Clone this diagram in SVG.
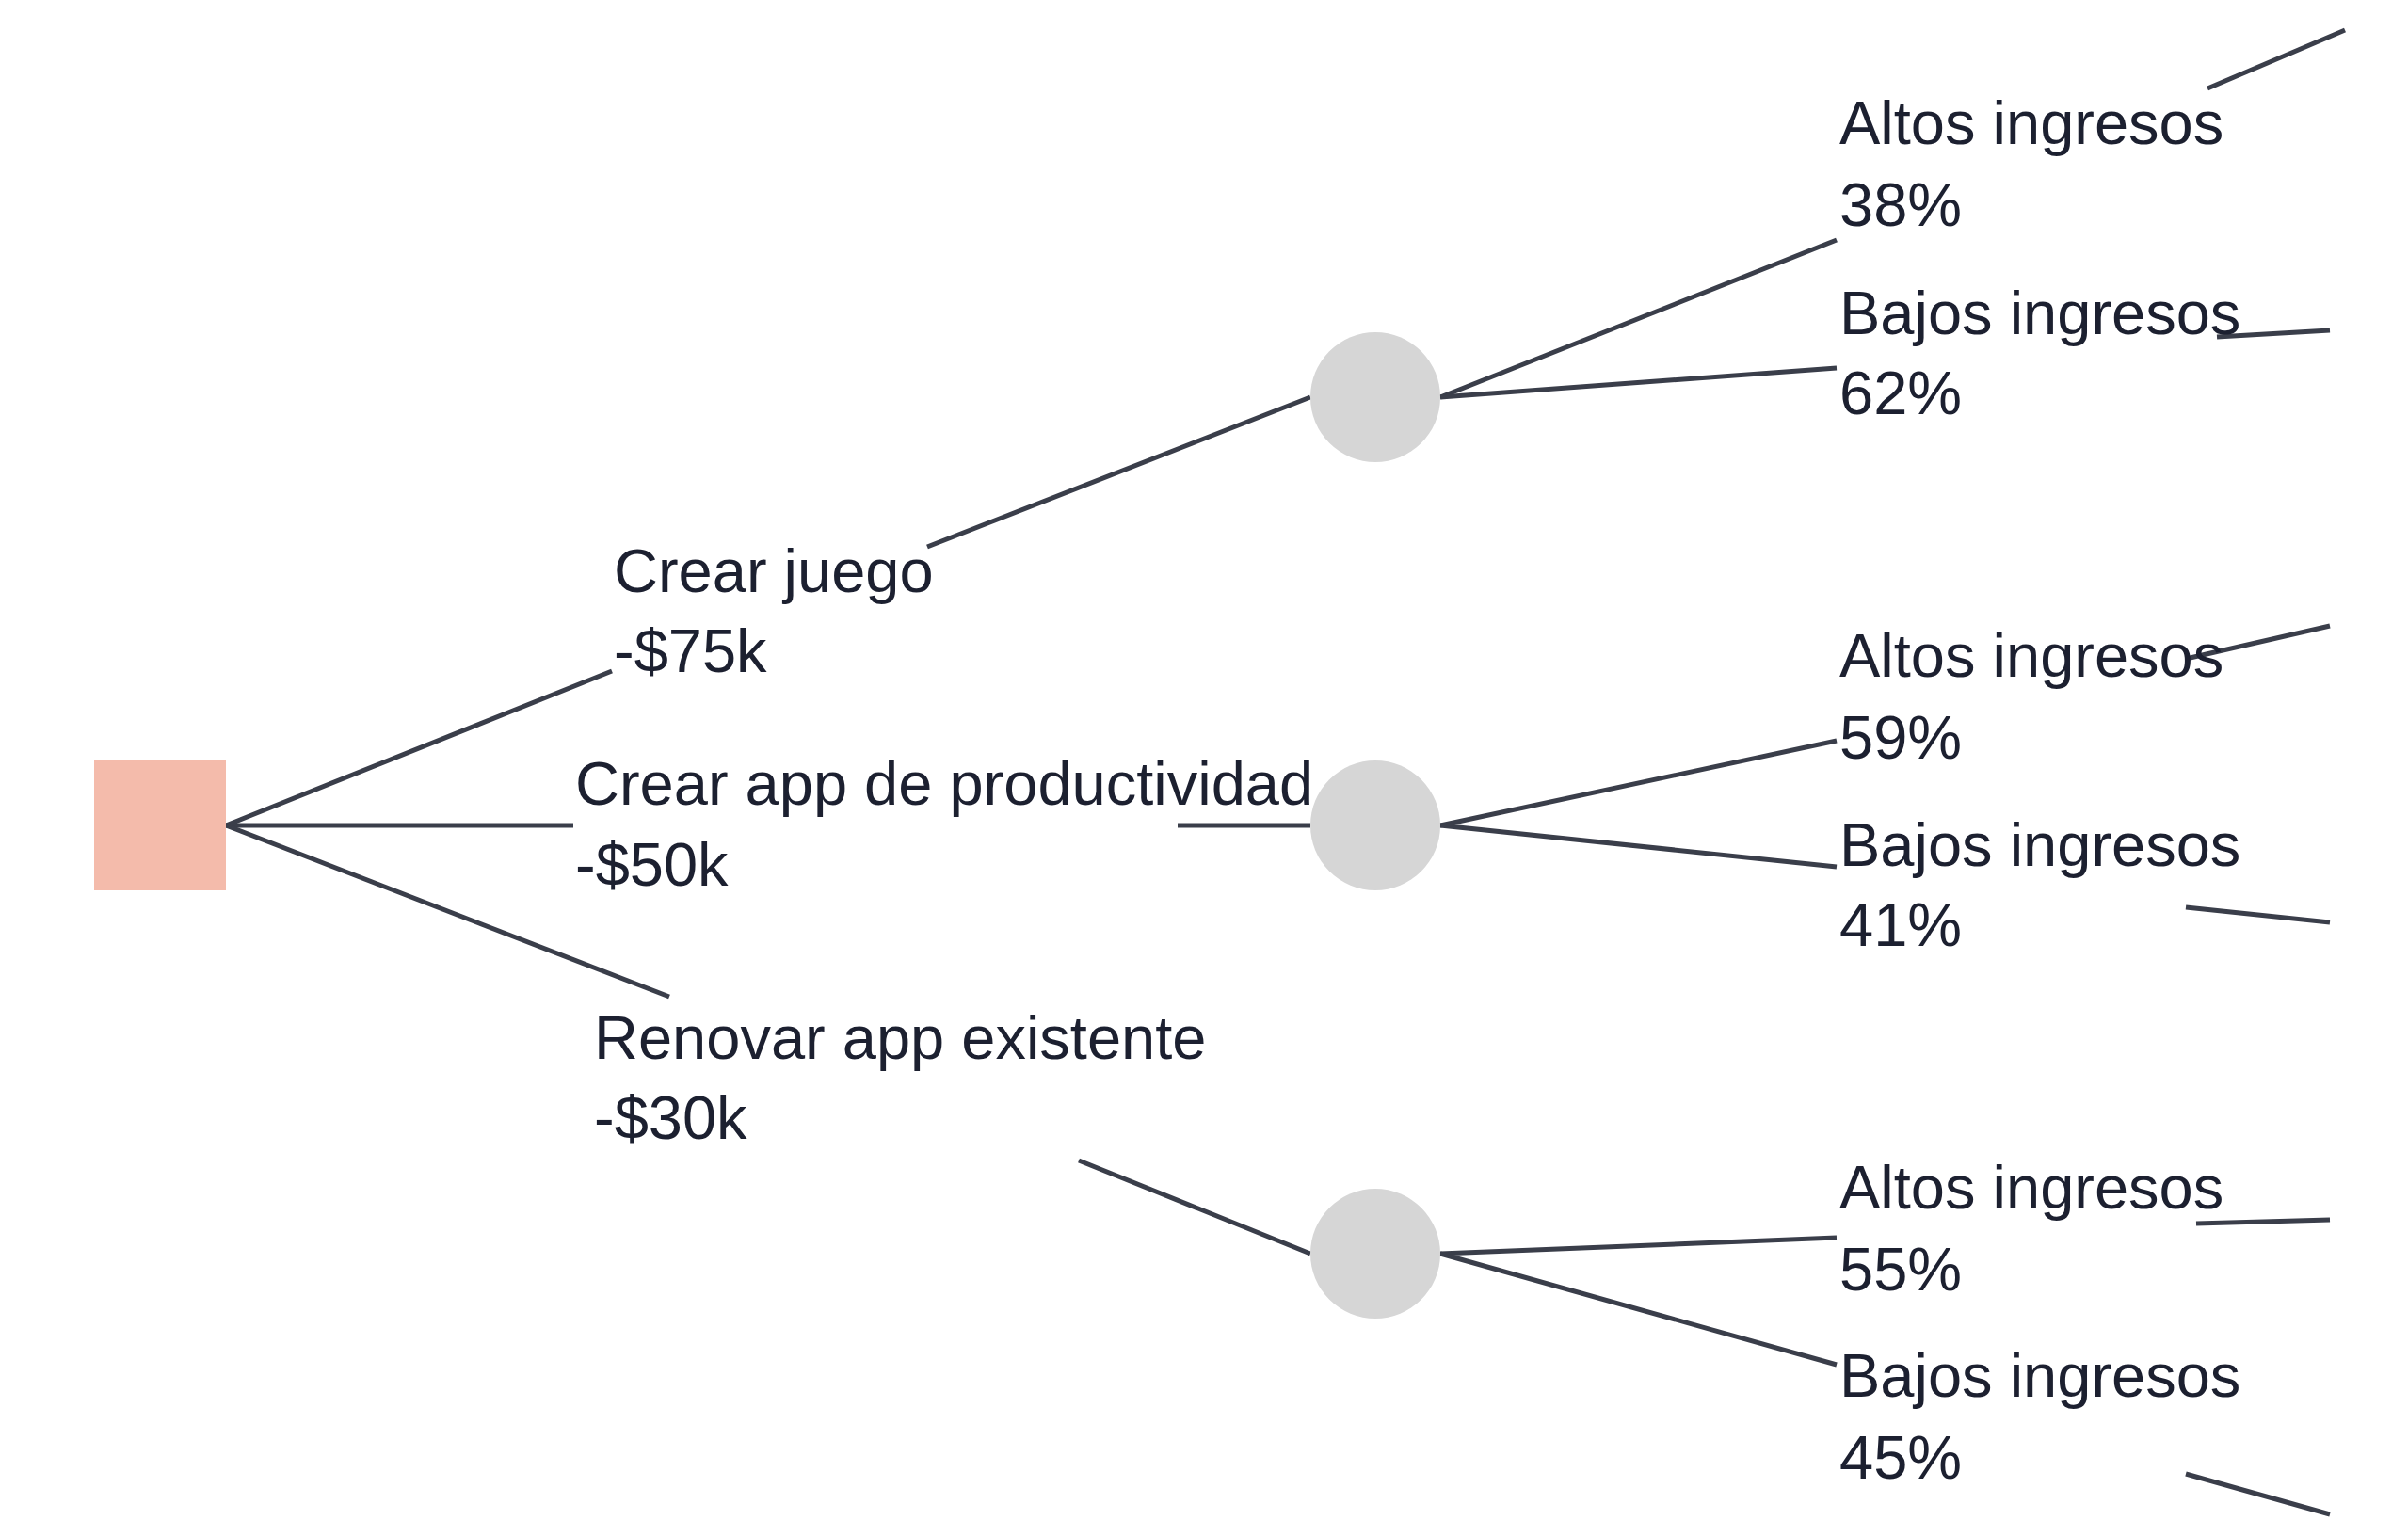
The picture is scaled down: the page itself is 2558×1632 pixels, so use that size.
<svg xmlns="http://www.w3.org/2000/svg" width="2558" height="1632" viewBox="0 0 2558 1632">
<style>
.c{stroke:#3a3e4a;stroke-width:5;fill:none;stroke-linecap:butt}
.t{font-family:"Liberation Sans",Arial,sans-serif;font-size:65px;fill:#1c2030}
.ch{fill:#d6d6d6}
</style>
<rect width="2558" height="1632" fill="#ffffff"/>
<g id="connectors">
<line class="c" x1="240" y1="877" x2="650" y2="713"/>
<line class="c" x1="240" y1="877" x2="609" y2="877"/>
<line class="c" x1="240" y1="877" x2="711" y2="1059"/>
<line class="c" x1="985" y1="581" x2="1392" y2="422"/>
<line class="c" x1="1251" y1="877" x2="1392" y2="877"/>
<line class="c" x1="1146" y1="1233" x2="1392" y2="1332"/>
<line class="c" x1="1530" y1="422" x2="1951" y2="255"/>
<line class="c" x1="1530" y1="422" x2="1951" y2="391"/>
<line class="c" x1="1530" y1="877" x2="1951" y2="787"/>
<line class="c" x1="1530" y1="877" x2="1951" y2="921"/>
<line class="c" x1="1530" y1="1332" x2="1951" y2="1315"/>
<line class="c" x1="1530" y1="1332" x2="1951" y2="1450"/>
<line class="c" x1="2345" y1="94" x2="2491" y2="32"/>
<line class="c" x1="2355" y1="358" x2="2475" y2="351"/>
<line class="c" x1="2322" y1="700" x2="2475" y2="665"/>
<line class="c" x1="2322" y1="964" x2="2475" y2="980"/>
<line class="c" x1="2333" y1="1300" x2="2475" y2="1296"/>
<line class="c" x1="2322" y1="1566" x2="2475" y2="1609"/>
</g>
<g id="decision"><rect x="100" y="808" width="140" height="138" fill="#f4bbab"/></g>
<g id="chance1"><circle class="ch" cx="1461" cy="422" r="69"/></g>
<g id="chance2"><circle class="ch" cx="1461" cy="877" r="69"/></g>
<g id="chance3"><circle class="ch" cx="1461" cy="1332" r="69"/></g>
<g id="label-juego"><text class="t" x="652" y="629">Crear juego</text><text class="t" x="652" y="714">-$75k</text></g>
<g id="label-prod"><text class="t" x="611" y="855">Crear app de productividad</text><text class="t" x="611" y="941">-$50k</text></g>
<g id="label-renovar"><text class="t" x="631" y="1125">Renovar app existente</text><text class="t" x="631" y="1210">-$30k</text></g>
<g id="out1a"><text class="t" x="1954" y="153">Altos ingresos</text><text class="t" x="1954" y="240">38%</text></g>
<g id="out1b"><text class="t" x="1954" y="355">Bajos ingresos</text><text class="t" x="1954" y="440">62%</text></g>
<g id="out2a"><text class="t" x="1954" y="719">Altos ingresos</text><text class="t" x="1954" y="806">59%</text></g>
<g id="out2b"><text class="t" x="1954" y="920">Bajos ingresos</text><text class="t" x="1954" y="1005">41%</text></g>
<g id="out3a"><text class="t" x="1954" y="1284">Altos ingresos</text><text class="t" x="1954" y="1371">55%</text></g>
<g id="out3b"><text class="t" x="1954" y="1484">Bajos ingresos</text><text class="t" x="1954" y="1571">45%</text></g>
</svg>
